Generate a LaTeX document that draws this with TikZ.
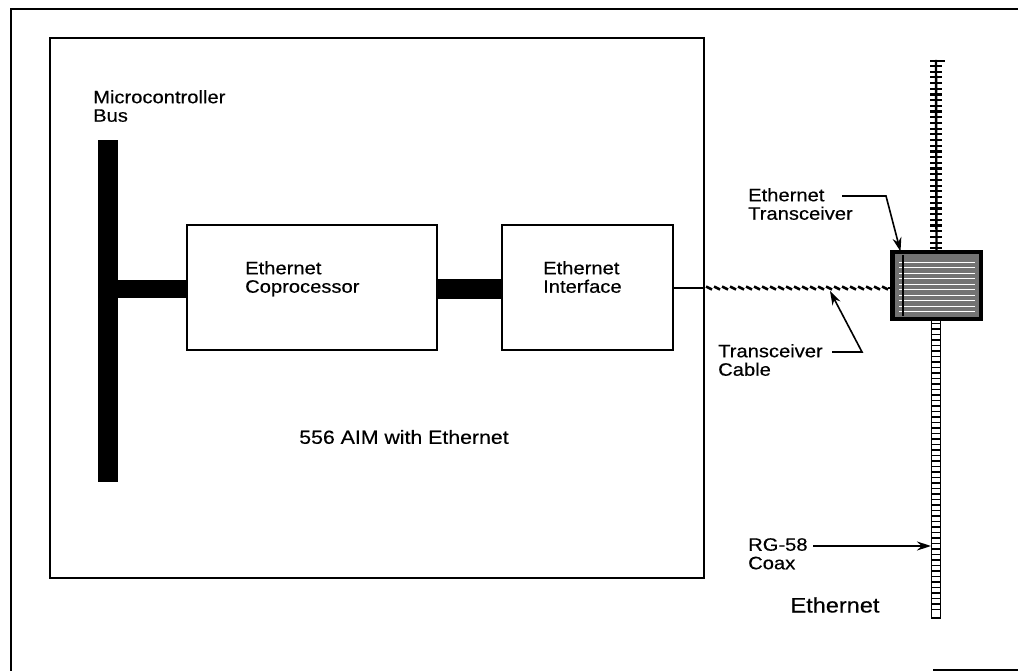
\documentclass[tikz,border=0pt]{standalone}
\usepackage{fontspec}
\setmainfont[FakeStretch=1.12,FakeBold=0.4]{Liberation Sans}
\usetikzlibrary{arrows.meta}
\begin{document}
\begin{tikzpicture}[x=1pt,y=-1pt,
  lbl/.style={font=\fontsize{18}{18.5}\selectfont, align=left, inner sep=0pt, anchor=north west},
  blk/.style={draw, line width=2pt, inner sep=0pt},
  arr/.style={line width=1.6pt, -{Stealth[length=14pt,width=9pt]}},
]
\useasboundingbox (0,0) rectangle (1018,671);
% outer frame
\draw[line width=2pt] (11,671) -- (11,9) -- (1018,9);
\draw[line width=2pt] (933,670) -- (1018,670);

% inner board
\node[blk, minimum width=654pt, minimum height=540pt] (aim) at (377,308) {};
\node[font=\fontsize{19}{20}\selectfont, inner sep=0pt] (aimlbl) at (404,437) {556 AIM with Ethernet};

% bus
\node[fill, minimum width=20pt, minimum height=342pt, inner sep=0pt] (bus) at (108,311) {};
\node[lbl] (buslbl) at (93,90) {Microcontroller\\Bus};

% boxes
\node[blk, minimum width=250pt, minimum height=125pt] (cop) at (312,287.5) {};
\node[blk, minimum width=171pt, minimum height=125pt] (iface) at (587.5,287.5) {};
\node[lbl] (coplbl) at (245,261) {Ethernet\\Coprocessor};
\node[lbl] (iflbl) at (543,261) {Ethernet\\Interface};

\draw[line width=18pt] (bus.east |- 0,289) -- (cop.west |- 0,289);
\draw[line width=20pt] (cop.east |- 0,289) -- (iface.west |- 0,289);

% transceiver
\node[draw, line width=3pt, fill=black!55, minimum width=87pt, minimum height=65pt, inner sep=0pt] (trans) at (936.5,285.5) {};
\foreach \y in {262,267.5,...,312} \draw[white, line width=0.9pt] (899,\y) -- (975,\y);
\draw[line width=1.2pt] (903,255) -- (903,316);
\draw[line width=3pt] (trans.north west) rectangle (trans.south east);

% cable
\coordinate (cabA) at (aim.east |- 0,288);
\draw[line width=2pt] (iface.east |- 0,288) -- (cabA);
\foreach \x in {706,714,...,882} \draw[line width=2.6pt] (\x,286.5) -- (\x+6,289.5);
\draw[line width=2pt] (888,288) -- (trans.west |- 0,288);

% coax upper
\coordinate (ctop) at (936,60);
\coordinate (cbot) at (936,618);
\draw[line width=2.4pt] (ctop) -- (trans.north);
\draw[line width=2.2pt] (930,61) -- (945,61);
\foreach \y in {66,71.7,...,250} \draw[line width=2.2pt] (930,\y) -- (942,\y);
% coax lower
\draw[line width=1.8pt] (931.5,318) rectangle (940.5,618);
\foreach \y in {323.5,329,...,614} \draw[line width=1.8pt] (931.5,\y) -- (940.5,\y);

% labels with arrows
\node[lbl] (etl) at (748,188) {Ethernet\\Transceiver};
\coordinate (etA) at (842,196);
\coordinate (etB) at (886,196);
\draw[arr] (etA) -- (etB) -- ([xshift=9pt]trans.north west);

\node[lbl] (tcl) at (718,344) {Transceiver\\Cable};
\coordinate (tcA) at (832,352);
\coordinate (tcB) at (862,352);
\draw[arr] (tcA) -- (tcB) -- (830,291);

\node[lbl] (rgl) at (748,538) {RG-58\\Coax};
\coordinate (rgA) at (813,546);
\draw[arr] (rgA) -- (931,546);

\node[font=\fontsize{21}{24}\selectfont, inner sep=0pt] (ethl) at (835,605) {Ethernet};
\end{tikzpicture}
\end{document}
